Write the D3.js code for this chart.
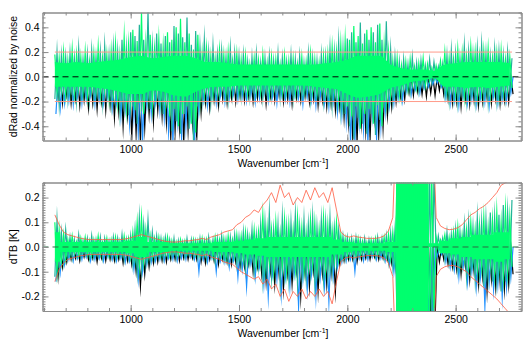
<!DOCTYPE html>
<html><head><meta charset="utf-8">
<script src="https://cdn.jsdelivr.net/npm/d3@7"></script>
<style>body{margin:0;background:#fff}svg{display:block}text{font-family:"Liberation Sans",Arial,Helvetica,sans-serif;fill:#000}</style>
</head><body><svg id="c" width="527" height="343"></svg>
<script>
// wavenumber grid: 650 .. 2750 cm-1, 20 cm-1 bins (spike extremes per bin)
const wnStart = 650, wnStep = 20;
// coarse grid for the dense core of the green spectrum: 650 .. 2750 cm-1, 50 cm-1
const coreStart = 650, coreStep = 50;
const xMajor = [1000, 1500, 2000, 2500];

// ---------- top panel: dRad normalized by noise ----------
const topGreenHi = [0.18,0.15,0.2, 0.13,0.22,0.18,0.16,0.2,0.12,0.19,0.24,0.15,0.18, 0.21,0.26,0.17,0.32,0.25, 0.38,0.29,0.52,0.26,0.34,0.22,0.3, 0.24,0.36,0.3,0.4,0.47,0.28,0.35,0.22, 0.34,0.19,0.23,0.17,0.14,0.22,0.18,0.2,0.13,0.19, 0.14,0.17,0.1,0.15,0.13,0.18,0.11,0.16,0.14,0.1,0.17,0.13,0.15,0.1,0.16,0.12,0.19,0.14,0.11,0.17, 0.18,0.24,0.2,0.26,0.29, 0.3,0.41,0.33,0.27,0.38,0.4,0.28,0.43,0.24,0.2, 0.13,0.15,0.09,0.12,0.14,0.08,0.11,0.15,0.1,0.07,0.09,0.13, 0.2,0.15, 0.14,0.22,0.19,0.16,0.24,0.2,0.17,0.21,0.23,0.15,0.19,0.21,0.14,0.16];
const topGreenLo = [-0.13,-0.1,-0.15, -0.11,-0.14,-0.09,-0.13,-0.16,-0.1,-0.12,-0.15,-0.11,-0.17, -0.14,-0.2,-0.16,-0.24,-0.19, -0.27,-0.21,-0.3,-0.16,-0.22,-0.13,-0.19, -0.2,-0.32,-0.26,-0.4,-0.3,-0.24,-0.38,-0.45, -0.2,-0.14,-0.1,-0.15,-0.12,-0.09,-0.14,-0.11,-0.08,-0.12, -0.1,-0.13,-0.08,-0.11,-0.12,-0.09,-0.14,-0.1,-0.08,-0.12,-0.11,-0.09,-0.13,-0.1,-0.12,-0.08,-0.11,-0.14,-0.1,-0.13, -0.16,-0.12,-0.18,-0.21,-0.24, -0.32,-0.24,-0.42,-0.3,-0.26,-0.38,-0.23,-0.4,-0.2,-0.15, -0.12,-0.15,-0.08,-0.1,-0.06,-0.09,-0.05,-0.07,-0.03,-0.02,0.0,-0.04, -0.12,-0.09, -0.14,-0.1,-0.16,-0.12,-0.09,-0.15,-0.13,-0.1,-0.14,-0.11,-0.15,-0.12,-0.1,-0.09];
const topGreenCoreHi = [0.12,0.11,0.12,0.11,0.12,0.13,0.14,0.16,0.17,0.15,0.16,0.17,0.17,0.15,0.12,0.12,0.11,0.1,0.1,0.1,0.1,0.1,0.1,0.1,0.1,0.11,0.12,0.14,0.17,0.17,0.17,0.1,0.07,0.06,0.06,0.05,0.1,0.11,0.12,0.12,0.12,0.12,0.11];
const topGreenCoreLo = [-0.08,-0.08,-0.08,-0.08,-0.09,-0.1,-0.12,-0.14,-0.14,-0.11,-0.12,-0.15,-0.16,-0.12,-0.09,-0.08,-0.08,-0.07,-0.07,-0.07,-0.07,-0.07,-0.07,-0.07,-0.08,-0.09,-0.1,-0.14,-0.17,-0.16,-0.14,-0.09,-0.07,-0.04,-0.03,-0.01,-0.08,-0.08,-0.09,-0.08,-0.09,-0.08,-0.07];
const topTealHi = [0.2,0.17,0.16, 0.19,0.15,0.23,0.14,0.18,0.21,0.16,0.2,0.25,0.17, 0.24,0.2,0.3,0.22,0.36, 0.33,0.42,0.3,0.53,0.25,0.35,0.27, 0.33,0.28,0.41,0.35,0.32,0.48,0.26,0.37, 0.24,0.3,0.2,0.25,0.18,0.21,0.16,0.23,0.19,0.17, 0.18,0.12,0.16,0.19,0.11,0.15,0.17,0.13,0.19,0.15,0.12,0.18,0.14,0.17,0.11,0.19,0.15,0.13,0.18,0.16, 0.23,0.2,0.28,0.22,0.31, 0.36,0.28,0.44,0.35,0.3,0.36,0.42,0.3,0.45,0.22, 0.16,0.12,0.14,0.1,0.16,0.11,0.13,0.09,0.14,0.12,0.08,0.1, 0.17,0.21, 0.18,0.15,0.25,0.2,0.18,0.23,0.26,0.19,0.16,0.22,0.2,0.17,0.2,0.15];
const topTealLo = [-0.18,-0.22,-0.14, -0.17,-0.13,-0.19,-0.15,-0.12,-0.18,-0.16,-0.13,-0.2,-0.15, -0.21,-0.17,-0.27,-0.22,-0.31, -0.24,-0.38,-0.28,-0.2,-0.26,-0.19,-0.23, -0.3,-0.25,-0.44,-0.36,-0.46,-0.3,-0.42,-0.52, -0.24,-0.17,-0.15,-0.19,-0.13,-0.16,-0.12,-0.17,-0.14,-0.11, -0.15,-0.12,-0.16,-0.14,-0.11,-0.17,-0.13,-0.15,-0.12,-0.16,-0.14,-0.12,-0.17,-0.13,-0.15,-0.12,-0.18,-0.14,-0.16,-0.19, -0.17,-0.22,-0.19,-0.26,-0.3, -0.4,-0.5,-0.33,-0.38,-0.46,-0.3,-0.47,-0.35,-0.25,-0.19, -0.18,-0.14,-0.16,-0.1,-0.12,-0.08,-0.11,-0.07,-0.06,-0.04,-0.02,-0.06, -0.14,-0.18, -0.16,-0.2,-0.13,-0.18,-0.15,-0.19,-0.14,-0.17,-0.2,-0.13,-0.18,-0.15,-0.16,-0.11];
const topBlueLo = [-0.3,-0.25,-0.21, -0.19,-0.22,-0.16,-0.21,-0.18,-0.15,-0.22,-0.18,-0.21,-0.17, -0.25,-0.21,-0.32,-0.26,-0.38, -0.33,-0.46,-0.53,-0.24,-0.3,-0.21,-0.27, -0.33,-0.44,-0.53,-0.36,-0.5,-0.4,-0.31,-0.53, -0.28,-0.19,-0.23,-0.17,-0.21,-0.15,-0.2,-0.17,-0.14,-0.18, -0.16,-0.19,-0.15,-0.2,-0.17,-0.14,-0.19,-0.16,-0.21,-0.15,-0.18,-0.2,-0.15,-0.17,-0.22,-0.16,-0.19,-0.23,-0.17,-0.21, -0.24,-0.2,-0.28,-0.31,-0.36, -0.53,-0.53,-0.37,-0.42,-0.53,-0.32,-0.5,-0.4,-0.29,-0.23, -0.21,-0.17,-0.19,-0.12,-0.14,-0.1,-0.13,-0.09,-0.08,-0.06,-0.05,-0.08, -0.17,-0.21, -0.19,-0.23,-0.16,-0.21,-0.18,-0.22,-0.17,-0.2,-0.23,-0.16,-0.21,-0.18,-0.19,-0.13];
const topBlackLo = [-0.17,-0.21,-0.15, -0.21,-0.18,-0.23,-0.19,-0.25,-0.21,-0.26,-0.2,-0.27,-0.23, -0.33,-0.28,-0.4,-0.31,-0.5, -0.46,-0.53,-0.41,-0.3,-0.36,-0.27,-0.32, -0.37,-0.5,-0.44,-0.41,-0.53,-0.43,-0.37,-0.5, -0.29,-0.21,-0.25,-0.19,-0.23,-0.18,-0.21,-0.17,-0.2,-0.16, -0.19,-0.16,-0.2,-0.17,-0.18,-0.22,-0.16,-0.19,-0.15,-0.2,-0.18,-0.22,-0.17,-0.19,-0.16,-0.2,-0.18,-0.23,-0.19,-0.24, -0.22,-0.27,-0.24,-0.33,-0.37, -0.5,-0.53,-0.37,-0.43,-0.5,-0.33,-0.47,-0.41,-0.31,-0.24, -0.2,-0.16,-0.18,-0.13,-0.15,-0.12,-0.14,-0.16,-0.13,-0.15,-0.11,-0.14, -0.18,-0.21, -0.2,-0.24,-0.18,-0.22,-0.19,-0.23,-0.2,-0.17,-0.21,-0.18,-0.22,-0.19,-0.2,-0.14];
const topNoiseLevels = [0.2, -0.2];
const topYTicks = [-0.4, -0.2, 0.0, 0.2, 0.4];

// ---------- bottom panel: dTB [K] ----------
const botGreenHi = [0.1,0.07,0.05, 0.03,0.045,0.02,0.035,0.04,0.025,0.03,0.045,0.02,0.035, 0.03,0.04,0.025,0.045,0.035, 0.06,0.1,0.12,0.07,0.045,0.035,0.04, 0.03,0.04,0.025,0.02,0.03,0.025,0.015,0.03, 0.025,0.035,0.03,0.02,0.04,0.03,0.035,0.045,0.03,0.05, 0.045,0.06,0.04,0.07,0.06,0.13,0.08,0.07,0.1,0.06,0.11,0.09,0.07,0.12,0.08,0.06,0.11,0.1,0.07,0.12, 0.09,0.07,0.1,0.05,0.035, 0.03,0.025,0.035,0.025,0.02,0.03,0.035,0.025,0.04,0.05, 0.06, 0.3,0.3,0.3,0.3,0.3,0.3,0.3,0.3,0.3, 0.04,0.03, 0.05,0.04, 0.06,0.08,0.05,0.07,0.1,0.07,0.09,0.12,0.08,0.11,0.14,0.1,0.15,0.12];
const botGreenLo = [-0.1,-0.06,-0.05, -0.03,-0.025,-0.035,-0.02,-0.03,-0.035,-0.025,-0.03,-0.02,-0.035, -0.025,-0.035,-0.03,-0.025,-0.04, -0.05,-0.08,-0.06,-0.045,-0.04,-0.03,-0.035, -0.03,-0.035,-0.025,-0.03,-0.02,-0.03,-0.025,-0.03, -0.035,-0.03,-0.025,-0.04,-0.03,-0.035,-0.045,-0.03,-0.04,-0.045, -0.05,-0.06,-0.04,-0.07,-0.06,-0.09,-0.07,-0.1,-0.06,-0.08,-0.1,-0.07,-0.09,-0.06,-0.1,-0.08,-0.07,-0.1,-0.06,-0.09, -0.08,-0.06,-0.05,-0.04,-0.035, -0.025,-0.035,-0.03,-0.02,-0.03,-0.025,-0.03,-0.02,-0.035,-0.045, -0.06, -0.3,-0.3,-0.3,-0.3,-0.3,-0.3,-0.3,-0.3,-0.3, -0.01,0.0, -0.03,-0.04, -0.05,-0.07,-0.05,-0.08,-0.06,-0.09,-0.08,-0.1,-0.07,-0.11,-0.09,-0.12,-0.1,-0.08];
const botGreenCoreHi = [0.06,0.02,0.02,0.02,0.02,0.02,0.02,0.025,0.04,0.02,0.02,0.015,0.015,0.015,0.015,0.02,0.02,0.025,0.03,0.035,0.04,0.04,0.04,0.04,0.04,0.04,0.03,0.02,0.015,0.015,0.015,0.02,0.3,0.3,0.3,0.015,0.025,0.035,0.04,0.05,0.05,0.06,0.06];
const botGreenCoreLo = [-0.06,-0.02,-0.02,-0.02,-0.02,-0.02,-0.02,-0.025,-0.04,-0.02,-0.02,-0.015,-0.015,-0.015,-0.015,-0.02,-0.02,-0.025,-0.03,-0.035,-0.04,-0.04,-0.04,-0.04,-0.04,-0.04,-0.03,-0.02,-0.015,-0.015,-0.015,-0.02,-0.3,-0.3,-0.3,0.0,-0.025,-0.03,-0.04,-0.05,-0.05,-0.06,-0.05];
const botTealHi = [0.11,0.06,0.07, 0.04,0.03,0.05,0.025,0.035,0.045,0.03,0.04,0.035,0.025, 0.04,0.035,0.05,0.03,0.045, 0.07,0.12,0.09,0.11,0.06,0.045,0.035, 0.04,0.03,0.035,0.025,0.02,0.035,0.03,0.025, 0.035,0.025,0.04,0.03,0.035,0.045,0.03,0.04,0.05,0.04, 0.06,0.05,0.07,0.05,0.09,0.1,0.14,0.07,0.09,0.12,0.08,0.1,0.13,0.08,0.11,0.09,0.12,0.08,0.11,0.1, 0.12,0.08,0.07,0.045,0.04, 0.035,0.04,0.03,0.035,0.03,0.025,0.04,0.035,0.045,0.055, 0.07, 0.3,0.3,0.3,0.3,0.3,0.3,0.3,0.3,0.3, 0.045,0.035, 0.06,0.05, 0.07,0.06,0.09,0.1,0.08,0.12,0.1,0.11,0.14,0.12,0.13,0.17,0.14,0.19];
const botTealLo = [-0.12,-0.09,-0.06, -0.04,-0.045,-0.035,-0.04,-0.03,-0.045,-0.04,-0.035,-0.045,-0.03, -0.04,-0.045,-0.035,-0.05,-0.045, -0.07,-0.1,-0.085,-0.06,-0.05,-0.045,-0.04, -0.045,-0.035,-0.04,-0.045,-0.035,-0.04,-0.03,-0.04, -0.045,-0.04,-0.05,-0.035,-0.06,-0.045,-0.05,-0.06,-0.045,-0.07, -0.07,-0.09,-0.06,-0.1,-0.08,-0.13,-0.1,-0.12,-0.09,-0.15,-0.11,-0.13,-0.09,-0.15,-0.11,-0.12,-0.1,-0.15,-0.1,-0.13, -0.11,-0.1,-0.07,-0.05,-0.045, -0.04,-0.045,-0.035,-0.04,-0.035,-0.03,-0.04,-0.035,-0.045,-0.06, -0.08, -0.3,-0.3,-0.3,-0.3,-0.3,-0.3,-0.3,-0.3,-0.3, -0.025,-0.015, -0.05,-0.06, -0.07,-0.09,-0.07,-0.12,-0.09,-0.13,-0.11,-0.16,-0.12,-0.14,-0.13,-0.18,-0.14,-0.1];
const botBlueLo = [-0.14,-0.1,-0.07, -0.05,-0.055,-0.045,-0.05,-0.04,-0.055,-0.05,-0.045,-0.055,-0.04, -0.05,-0.055,-0.045,-0.06,-0.055, -0.09,-0.13,-0.1,-0.07,-0.06,-0.055,-0.05, -0.055,-0.045,-0.05,-0.055,-0.045,-0.05,-0.04,-0.05, -0.1,-0.05,-0.06,-0.045,-0.1,-0.055,-0.06,-0.08,-0.055,-0.12, -0.09,-0.16,-0.07,-0.12,-0.08,-0.15,-0.2,-0.11,-0.13,-0.19,-0.12,-0.16,-0.11,-0.24,-0.13,-0.17,-0.11,-0.2,-0.12,-0.16, -0.22,-0.12,-0.08,-0.06,-0.055, -0.05,-0.1,-0.045,-0.055,-0.05,-0.04,-0.05,-0.045,-0.055,-0.07, -0.1, -0.3,-0.3,-0.3,-0.3,-0.3,-0.3,-0.3,-0.3,-0.3, -0.04,-0.03, -0.06,-0.08, -0.09,-0.12,-0.08,-0.14,-0.1,-0.16,-0.12,-0.24,-0.14,-0.17,-0.15,-0.2,-0.16,-0.12];
const botBlackLo = [-0.12,-0.08,-0.06, -0.05,-0.045,-0.055,-0.04,-0.05,-0.045,-0.06,-0.045,-0.055,-0.05, -0.055,-0.05,-0.065,-0.055,-0.07, -0.1,-0.16,-0.11,-0.08,-0.065,-0.06,-0.055, -0.06,-0.05,-0.05,-0.055,-0.045,-0.05,-0.045,-0.05, -0.06,-0.065,-0.05,-0.055,-0.07,-0.05,-0.06,-0.07,-0.06,-0.08, -0.08,-0.07,-0.1,-0.08,-0.11,-0.14,-0.1,-0.15,-0.11,-0.17,-0.11,-0.15,-0.1,-0.2,-0.11,-0.16,-0.1,-0.18,-0.11,-0.15, -0.11,-0.18,-0.07,-0.055,-0.05, -0.05,-0.06,-0.05,-0.045,-0.05,-0.04,-0.05,-0.045,-0.05,-0.065, -0.09, -0.3,-0.3,-0.3,-0.3,-0.3,-0.3,-0.3,-0.3,-0.3, -0.06,-0.05, -0.07,-0.08, -0.09,-0.11,-0.08,-0.13,-0.1,-0.15,-0.12,-0.18,-0.13,-0.16,-0.14,-0.17,-0.15,-0.11];
const botNoiseHi = [0.13,0.09,0.06, 0.05,0.045,0.04,0.035,0.032,0.03,0.03,0.03,0.03,0.03, 0.03,0.03,0.03,0.032,0.035, 0.04,0.045,0.05,0.045,0.04,0.035,0.03, 0.025,0.022,0.02,0.02,0.022,0.025,0.025,0.028, 0.03,0.035,0.03,0.04,0.045,0.05,0.06,0.065,0.07,0.09, 0.1,0.12,0.13,0.15,0.14,0.17,0.19,0.22,0.18,0.25,0.2,0.22,0.17,0.2,0.18,0.23,0.19,0.24,0.2,0.22, 0.18,0.24,0.15,0.06,0.045, 0.04,0.045,0.04,0.038,0.035,0.035,0.035,0.038,0.045,0.065, 0.12, 0.6,0.6,0.6,0.6,0.6,0.6,0.6,0.6,0.6, 0.12,0.085, 0.075,0.07, 0.072,0.078,0.09,0.11,0.13,0.14,0.155,0.165,0.18,0.2,0.22,0.25,0.26,0.27];
const botNoiseLo = [-0.14,-0.09,-0.065, -0.05,-0.045,-0.04,-0.035,-0.033,-0.03,-0.03,-0.03,-0.03,-0.03, -0.03,-0.03,-0.03,-0.032,-0.035, -0.04,-0.045,-0.05,-0.045,-0.04,-0.035,-0.03, -0.025,-0.022,-0.02,-0.02,-0.022,-0.025,-0.025,-0.028, -0.03,-0.035,-0.03,-0.04,-0.045,-0.05,-0.06,-0.065,-0.07,-0.085, -0.1,-0.11,-0.12,-0.13,-0.12,-0.15,-0.13,-0.17,-0.15,-0.2,-0.17,-0.22,-0.18,-0.2,-0.17,-0.21,-0.18,-0.2,-0.17,-0.2, -0.18,-0.23,-0.14,-0.06,-0.045, -0.04,-0.045,-0.04,-0.038,-0.035,-0.035,-0.035,-0.038,-0.045,-0.065, -0.12, -0.6,-0.6,-0.6,-0.6,-0.6,-0.6,-0.6,-0.6,-0.6, -0.12,-0.09, -0.08,-0.075, -0.075,-0.08,-0.09,-0.1,-0.12,-0.135,-0.15,-0.165,-0.18,-0.195,-0.21,-0.23,-0.25,-0.27];
const botYTicks = [-0.2, -0.1, 0.0, 0.1, 0.2];

const wn = topGreenHi.map((_, i) => wnStart + i * wnStep);
const wnCore = topGreenCoreHi.map((_, i) => coreStart + i * coreStep);

const svg = d3.select("#c");
const L = 42.5, R = 521.5;
const x = d3.scaleLinear().domain([593, 2804]).range([L, R]);
const axisCol = "#8c8c8c";

function panel(cfg) {
  const y = d3.scaleLinear().domain(cfg.ydom).range([cfg.bottom, cfg.top]);
  const cid = "clip" + cfg.name;
  svg.append("clipPath").attr("id", cid).append("rect")
    .attr("x", L).attr("y", cfg.top).attr("width", R - L).attr("height", cfg.bottom - cfg.top);
  const g = svg.append("g").attr("clip-path", `url(#${cid})`);

  const trace = d3.line().x(d => x(d[0])).y(d => y(d[1]));
  cfg.layers.forEach(layer => {
    if (layer.core) {
      const area = d3.area().curve(cfg.coreCurve)
        .x((d, i) => x(wnCore[i])).y0((d, i) => y(layer.core[1][i])).y1(d => y(d));
      g.append("path").datum(layer.core[0]).attr("d", area).attr("fill", layer.color);
    }
    const pts = layer.lo.flatMap((v, i) => {
      const a = [wn[i] + layer.ph[0], layer.hi ? layer.hi[i] : 0];
      const b = [wn[i] + layer.ph[1], v];
      return a[0] < b[0] ? [a, b] : [b, a];
    });
    g.append("path").datum(pts).attr("d", trace)
      .attr("fill", "none").attr("stroke", layer.color).attr("stroke-width", layer.w || 1.2)
      .attr("stroke-linejoin", "miter").attr("stroke-miterlimit", 30);
  });

  g.append("line").attr("x1", L).attr("x2", R).attr("y1", y(0)).attr("y2", y(0))
    .attr("stroke", cfg.dashCol).attr("stroke-width", 1).attr("stroke-dasharray", "6,4");

  if (cfg.noiseLevels) {
    g.selectAll(null).data(cfg.noiseLevels).enter().append("line")
      .attr("x1", x(wn[0])).attr("x2", x(wn[wn.length - 1] + wnStep / 2)).attr("y1", d => y(d)).attr("y2", d => y(d))
      .attr("stroke", "#ff9a8a").attr("stroke-width", 1);
  }
  if (cfg.noiseHi) {
    [cfg.noiseHi, cfg.noiseLo].forEach(arr => {
      g.append("path").datum(arr)
        .attr("d", d3.line().x((d, i) => x(wn[i])).y(d => y(d)))
        .attr("fill", "none").attr("stroke", "#ff5a40").attr("stroke-width", 0.8);
    });
  }

  const styleAx = sel => {
    sel.select(".domain").attr("stroke", axisCol);
    sel.selectAll(".tick line").attr("stroke", axisCol);
    sel.selectAll("text").attr("font-size", "10.5px").attr("fill", "#000")
      .attr("font-family", '"Liberation Sans",Arial,sans-serif');
  };
  const minorX = d3.range(600, 2801, 100);
  svg.append("g").attr("transform", `translate(0,${cfg.bottom})`)
    .call(d3.axisBottom(x).tickValues(minorX).tickSize(-3).tickFormat("").tickSizeOuter(0)).call(styleAx);
  svg.append("g").attr("transform", `translate(0,${cfg.bottom})`)
    .call(d3.axisBottom(x).tickValues(xMajor).tickSize(-6).tickPadding(5).tickFormat(d => String(d)).tickSizeOuter(0)).call(styleAx);
  svg.append("g").attr("transform", `translate(0,${cfg.top})`)
    .call(d3.axisTop(x).tickValues(minorX).tickSize(-3).tickFormat("").tickSizeOuter(0)).call(styleAx);
  svg.append("g").attr("transform", `translate(0,${cfg.top})`)
    .call(d3.axisTop(x).tickValues(xMajor).tickSize(-6).tickFormat("").tickSizeOuter(0)).call(styleAx);
  const fmt = d => (Math.abs(d) < 1e-9 ? 0 : d).toFixed(1);
  const minorY = d3.range(Math.ceil(cfg.ydom[0] / cfg.minorStep - 1e-9), Math.floor(cfg.ydom[1] / cfg.minorStep + 1e-9) + 1)
    .map(k => k * cfg.minorStep);
  svg.append("g").attr("transform", `translate(${L},0)`)
    .call(d3.axisLeft(y).tickValues(minorY).tickSize(-3).tickFormat("").tickSizeOuter(0)).call(styleAx);
  svg.append("g").attr("transform", `translate(${L},0)`)
    .call(d3.axisLeft(y).tickValues(cfg.yTicks).tickSize(-6).tickPadding(3).tickFormat(fmt).tickSizeOuter(0)).call(styleAx);
  svg.append("g").attr("transform", `translate(${R},0)`)
    .call(d3.axisRight(y).tickValues(minorY).tickSize(-3).tickFormat("").tickSizeOuter(0)).call(styleAx);
  svg.append("g").attr("transform", `translate(${R},0)`)
    .call(d3.axisRight(y).tickValues(cfg.yTicks).tickSize(-6).tickFormat("").tickSizeOuter(0)).call(styleAx);

  const xt = svg.append("text").attr("x", (L + R) / 2 + 1).attr("y", cfg.bottom + 26)
    .attr("text-anchor", "middle").attr("font-size", "10.5px");
  xt.append("tspan").text("Wavenumber [cm");
  xt.append("tspan").attr("font-size", "7px").attr("dy", "-4").text("-1");
  xt.append("tspan").attr("dy", "4").text("]");
  svg.append("text").attr("transform", `translate(16.5,${(cfg.top + cfg.bottom) / 2}) rotate(-90)`)
    .attr("text-anchor", "middle").attr("font-size", "10.5px").text(cfg.ylabel);
}

panel({
  name: "top", top: 12.5, bottom: 140.5, ydom: [-0.515, 0.52], yTicks: topYTicks, minorStep: 0.04,
  ylabel: "dRad normalized by noise", dashCol: "#000", coreCurve: d3.curveMonotoneX,
  layers: [
    { lo: topBlackLo, color: "#000000", ph: [5, 15] },
    { lo: topBlueLo, color: "#1e90ff", ph: [15, 5] },
    { lo: topTealLo, hi: topTealHi, color: "#22b39a", ph: [10, 0] },
    { lo: topGreenLo, hi: topGreenHi, core: [topGreenCoreHi, topGreenCoreLo], color: "#00ff6e", ph: [0, 10] }
  ],
  noiseLevels: topNoiseLevels
});
panel({
  name: "bot", top: 182.5, bottom: 311, ydom: [-0.259, 0.261], yTicks: botYTicks, minorStep: 0.01,
  ylabel: "dTB [K]", dashCol: "#2d6b45", coreCurve: d3.curveStep,
  layers: [
    { lo: botBlackLo, color: "#000000", ph: [5, 15] },
    { lo: botBlueLo, color: "#1e90ff", ph: [15, 5] },
    { lo: botTealLo, hi: botTealHi, color: "#22b39a", ph: [10, 0] },
    { lo: botGreenLo, hi: botGreenHi, core: [botGreenCoreHi, botGreenCoreLo], color: "#00ff6e", ph: [0, 10] }
  ],
  noiseHi: botNoiseHi, noiseLo: botNoiseLo
});
</script></body></html>
